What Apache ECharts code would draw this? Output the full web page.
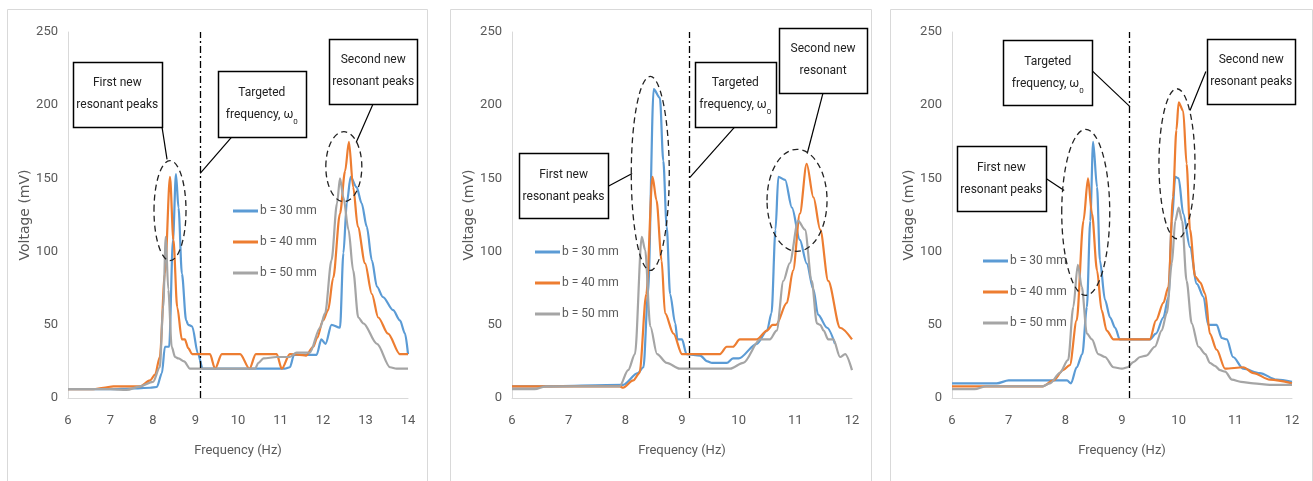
<!DOCTYPE html>
<html>
<head>
<meta charset="utf-8">
<script src="https://cdn.jsdelivr.net/npm/echarts@6/dist/echarts.min.js"></script>
<style>
  html, body { margin: 0; padding: 0; background: #fff; }
  #chart { width: 1313px; height: 481px; }
</style>
</head>
<body>
<div id="chart"></div>
<script>
// ---- data: [frequency Hz, voltage mV] ----
const SERIES_NAMES = ['b = 30 mm', 'b = 40 mm', 'b = 50 mm']
const TARGET_FREQ = 9.12
const X_MAX = [14, 12, 12]
const Y_TICKS = [0, 50, 100, 150, 200, 250]

const p1B30 = [[6,6],[7,6],[7.5,6.5],[7.93,7],[8.09,7.5],[8.21,17],[8.28,35],[8.38,35],[8.47,108],[8.54,153],[8.6,130],[8.68,85],[8.78,53],[8.83,50],[8.92,49],[9.06,30],[9.17,20],[11.1,20],[11.22,21],[11.32,29.5],[11.85,29.5],[11.96,40],[12.06,37],[12.2,50],[12.4,48],[12.48,99],[12.56,133],[12.65,151],[12.79,144],[12.91,133],[13.03,117],[13.15,94],[13.27,76],[13.41,69],[13.65,60],[13.81,53],[13.93,44],[14,30]]
const p1B40 = [[6,6],[6.6,6],[6.83,7],[7.07,8],[7.7,8],[7.93,12],[8.05,16],[8.16,28],[8.28,85],[8.4,151],[8.48,108],[8.57,62],[8.68,40],[8.75,40],[8.83,34],[8.92,30],[9.34,30],[9.46,20],[9.62,30],[10.05,30],[10.27,20],[10.42,30],[10.91,30],[11.03,20],[11.22,30],[11.45,29.5],[11.6,29],[11.77,35],[11.86,41],[12.0,53],[12.12,60],[12.24,82],[12.4,126],[12.52,155],[12.61,175],[12.71,144],[12.82,117],[12.99,92],[13.15,71],[13.3,55],[13.53,44],[13.81,30],[14,30]]
const p1B50 = [[6,6],[7.0,6],[7.38,5.5],[7.7,8],[8.0,11],[8.16,21],[8.24,62],[8.3,110],[8.36,74],[8.44,35],[8.52,28],[8.6,27],[8.73,25],[8.87,20],[10.4,20],[10.48,24],[10.6,27],[10.91,28],[11.22,28],[11.38,31],[11.69,31],[11.93,48],[12.05,58],[12.2,94],[12.33,133],[12.4,150],[12.48,137],[12.6,115],[12.71,87],[12.83,55],[12.95,51],[13.27,37],[13.58,21],[13.73,20],[14,20]]

const p2B30 = [[6,8],[6.5,8],[7.96,9],[8.22,17],[8.32,21],[8.4,71],[8.5,211],[8.61,205],[8.67,162],[8.73,117],[8.79,71],[8.88,51],[8.92,40],[9.0,40],[9.08,30],[9.32,29],[9.45,25],[9.53,24],[9.79,24],[9.9,27],[10.0,27],[10.32,37],[10.5,46],[10.58,58],[10.65,115],[10.7,151],[10.82,149],[10.94,130],[11.08,108],[11.2,92],[11.32,74],[11.4,57],[11.56,48],[11.7,37]]
const p2B40 = [[6,8],[7.9,8],[7.96,7],[8.14,12],[8.25,17],[8.37,71],[8.48,151],[8.55,135],[8.64,94],[8.7,58],[8.85,44],[9.0,30],[9.67,30],[9.79,35],[9.9,35],[10.02,40],[10.32,40],[10.5,46],[10.6,50],[10.66,50],[10.85,65],[10.96,87],[11.08,126],[11.2,160],[11.32,137],[11.44,115],[11.58,80],[11.79,48],[12,40]]
const p2B50 = [[6,6],[6.4,6],[6.6,8],[7.9,8],[8.05,19],[8.17,30],[8.29,110],[8.35,101],[8.44,49],[8.56,30],[8.73,24],[8.96,20],[9.85,20],[10.08,24],[10.38,40],[10.55,40],[10.67,46],[10.79,80],[10.9,92],[11.05,121],[11.17,115],[11.29,80],[11.38,51],[11.44,50],[11.5,46],[11.58,40],[11.67,40],[11.79,28],[11.88,30],[12,19]]

const p3B30 = [[6,10],[6.79,10],[7.0,12],[8.03,12],[8.1,10],[8.2,21],[8.3,30],[8.38,62],[8.44,121],[8.49,175],[8.56,144],[8.61,94],[8.7,67],[8.79,55],[8.88,48],[8.96,40],[9.49,40],[9.6,44],[9.73,55],[9.82,69],[9.88,121],[9.94,151],[10.0,150],[10.08,126],[10.2,103],[10.32,78],[10.44,69],[10.52,50],[10.67,50],[10.76,41],[10.85,40],[10.96,28],[11.14,20],[11.43,17],[11.73,12.5],[12,11]]
const p3B40 = [[6,8],[7.6,8],[7.79,12],[7.96,19],[8.08,22.5],[8.2,53],[8.32,121],[8.4,150],[8.47,126],[8.56,87],[8.64,60],[8.73,46],[8.85,40],[9.49,40],[9.6,53],[9.73,65],[9.82,76],[9.9,137],[9.96,183],[10.0,202],[10.08,196],[10.14,160],[10.2,115],[10.29,83],[10.38,79],[10.47,71],[10.55,44],[10.67,33],[10.82,20],[11.14,21],[11.32,17],[11.61,12.5],[12,10]]
const p3B50 = [[6,6],[6.4,6],[6.6,8],[7.6,8],[7.73,10],[7.9,17],[8.05,26],[8.14,62],[8.22,91],[8.29,76],[8.38,44],[8.47,40],[8.58,30],[8.7,28],[8.85,21],[9.0,20],[9.1,21],[9.2,24.5],[9.32,28],[9.43,29],[9.58,35],[9.7,46],[9.79,58],[9.88,92],[9.94,121],[10.0,130],[10.06,121],[10.14,80],[10.23,51],[10.35,35],[10.47,30],[10.55,24],[10.64,22],[10.73,19],[10.82,18],[10.94,12.5],[11.1,11],[11.32,10],[11.61,9],[12,9]]

const panels = [
  [p1B30, p1B40, p1B50],
  [p2B30, p2B40, p2B50],
  [p3B30, p3B40, p3B50]
]

// callout annotations per panel (anchor points in data units)
const TARGET_TEXT = 'Targeted\nfrequency, ω{sub|0}'
const callouts = [
  [
    { text: 'First new\nresonant peaks', at: [7.16, 207.6], w: 89, h: 65, from: [8.21, 185.5], to: [8.33, 163] },
    { text: TARGET_TEXT, at: [10.56, 201], w: 88, h: 66, from: [9.86, 178.6], to: [9.11, 153.4] },
    { text: 'Second new\nresonant peaks', at: [13.18, 223.3], w: 88, h: 65, from: [13.18, 201], to: [12.78, 174.5] }
  ],
  [
    { text: 'First new\nresonant peaks', at: [6.91, 144.9], w: 89, h: 65, from: [7.69, 144.5], to: [8.12, 153.4] },
    { text: TARGET_TEXT, at: [9.94, 207.6], w: 81, h: 65, from: [9.94, 185.5], to: [9.14, 150.7] },
    { text: 'Second new\nresonant', at: [11.49, 230.8], w: 88, h: 65, from: [11.49, 208.6], to: [11.21, 167] }
  ],
  [
    { text: TARGET_TEXT, at: [7.69, 222], w: 89, h: 65, from: [8.47, 223.6], to: [9.14, 199] },
    { text: 'First new\nresonant peaks', at: [6.87, 149.7], w: 89, h: 65, from: [7.66, 150], to: [7.98, 141.8] },
    { text: 'Second new\nresonant peaks', at: [11.28, 223.3], w: 88, h: 65, from: [10.48, 223], to: [10.2, 196.4] }
  ]
]
const ellipses = [
  [{ c: [8.4, 128], rx: 16, ry: 50 }, { c: [12.49, 158], rx: 18, ry: 35 }],
  [{ c: [8.44, 153.4], rx: 19, ry: 97 }, { c: [11.03, 135], rx: 30, ry: 51 }],
  [{ c: [8.36, 126.8], rx: 24, ry: 83 }, { c: [9.97, 160], rx: 18, ry: 75 }]
]

const COLORS = ['#5b9bd5', '#ed7d31', '#a5a5a5']
const FONT = 'Roboto, sans-serif'
const gridLefts = [68, 512, 952]
const legendPos = [[228, 200], [530, 241], [978, 250]]
const frames = [[7, 427], [450, 871], [890, 1312]]

const chart = echarts.init(document.getElementById('chart'))

const grids = gridLefts.map(l => ({ left: l, top: 32, width: 340, height: 366 }))

const xAxes = X_MAX.map((mx, i) => ({
  type: 'value', gridIndex: i, min: 6, max: mx, interval: 1,
  name: 'Frequency (Hz)', nameLocation: 'middle', nameGap: 46,
  nameTextStyle: { color: '#595959', fontSize: 13, fontFamily: FONT },
  axisLine: { show: true, lineStyle: { color: '#d9d9d9', width: 1 } },
  axisTick: { show: false },
  splitLine: { show: false },
  axisLabel: { color: '#595959', fontSize: 13, fontFamily: FONT, margin: 16 }
}))

const yAxes = X_MAX.map((_, i) => ({
  type: 'value', gridIndex: i, min: Y_TICKS[0], max: Y_TICKS[Y_TICKS.length - 1], interval: 50,
  name: 'Voltage (mV)', nameLocation: 'middle', nameGap: 36, nameRotate: 90,
  nameTextStyle: { color: '#595959', fontSize: 14, fontFamily: 'DejaVu Sans' },
  axisLine: { show: true, lineStyle: { color: '#d9d9d9', width: 1 } },
  axisTick: { show: false },
  splitLine: { show: false },
  axisLabel: { color: '#595959', fontSize: 13, fontFamily: FONT, margin: 10 }
}))

const series = []
panels.forEach((sets, i) => {
  sets.forEach((pts, k) => {
    const s = {
      name: SERIES_NAMES[k],
      type: 'line',
      xAxisIndex: i,
      yAxisIndex: i,
      data: pts,
      showSymbol: false,
      smooth: 0.3,
      smoothMonotone: 'x',
      lineStyle: { color: COLORS[k], width: 2.2 },
      itemStyle: { color: COLORS[k] },
      z: 2 + k
    }
    if (k === 0) {
      s.markLine = {
        silent: true,
        symbol: 'none',
        label: { show: false },
        lineStyle: { color: '#000', type: [7, 3, 2, 3], width: 1.3 },
        data: [{ xAxis: TARGET_FREQ }]
      }
    }
    series.push(s)
  })
})

const legends = legendPos.map(p => ({
  orient: 'vertical', left: p[0], top: p[1],
  data: SERIES_NAMES,
  icon: 'rect', itemWidth: 25, itemHeight: 3, itemGap: 19,
  textStyle: { color: '#595959', fontSize: 12, fontFamily: FONT, padding: [0, 0, 0, -3] }
}))

chart.setOption({
  animation: false,
  grid: grids,
  xAxis: xAxes,
  yAxis: yAxes,
  legend: legends,
  series: series
})

// annotation overlay, positioned through the grids' own coordinate systems
const graphics = []
frames.forEach(f => {
  graphics.push({
    type: 'rect', z: 0, silent: true,
    shape: { x: f[0] + 0.5, y: 9.5, width: f[1] - f[0], height: 490 },
    style: { fill: 'none', stroke: '#d9d9d9', lineWidth: 1 }
  })
})
callouts.forEach((list, i) => {
  list.forEach(c => {
    const p = chart.convertToPixel({ gridIndex: i }, c.at)
    const a = chart.convertToPixel({ gridIndex: i }, c.from)
    const b = chart.convertToPixel({ gridIndex: i }, c.to)
    graphics.push({
      type: 'line', z: 20, silent: true,
      shape: { x1: a[0], y1: a[1], x2: b[0], y2: b[1] },
      style: { stroke: '#000', lineWidth: 1.2 }
    })
    graphics.push({
      type: 'rect', z: 21, silent: true,
      shape: { x: Math.round(p[0] - c.w / 2) + 0.5, y: Math.round(p[1] - c.h / 2) + 0.5, width: c.w, height: c.h },
      style: { fill: '#fff', stroke: '#000', lineWidth: 1.5 }
    })
    graphics.push({
      type: 'text', z: 22, silent: true,
      x: p[0], y: p[1],
      style: {
        text: c.text, fill: '#222', fontSize: 12, fontFamily: FONT,
        align: 'center', verticalAlign: 'middle', lineHeight: 22,
        rich: { sub: { fontSize: 8, fontFamily: FONT, fill: '#222', verticalAlign: 'bottom', lineHeight: 22, padding: [6, 0, 0, 0] } }
      }
    })
  })
})
ellipses.forEach((list, i) => {
  list.forEach(e => {
    const p = chart.convertToPixel({ gridIndex: i }, e.c)
    graphics.push({
      type: 'ellipse', z: 20, silent: true,
      shape: { cx: p[0], cy: p[1], rx: e.rx, ry: e.ry },
      style: { fill: 'none', stroke: '#222', lineWidth: 1.3, lineDash: [6, 4] }
    })
  })
})
chart.setOption({ graphic: graphics })

window.addEventListener('resize', () => chart.resize())
</script>
</body>
</html>
